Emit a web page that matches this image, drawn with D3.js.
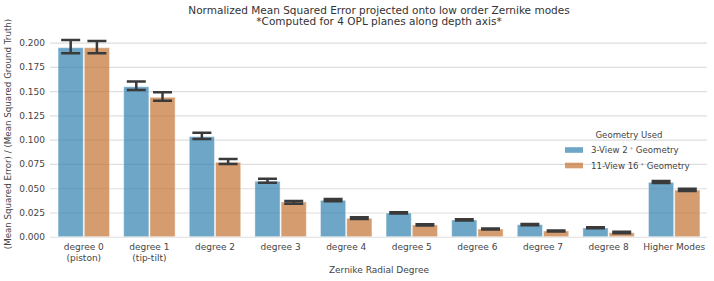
<!DOCTYPE html>
<html>
<head>
<meta charset="utf-8">
<script src="https://cdn.jsdelivr.net/npm/d3@7"></script>
<style>
  body { margin: 0; background: #fff; }
  svg text { font-family: "DejaVu Sans", sans-serif; }
</style>
</head>
<body>
<div class="canvas"></div>
<script>
// chart values
var categories = ["degree 0\n(piston)", "degree 1\n(tip-tilt)", "degree 2", "degree 3", "degree 4",
                  "degree 5", "degree 6", "degree 7", "degree 8", "Higher Modes"];
var seriesNames = ["3-View 2", "11-View 16"];

var view3Mean = [0.1948, 0.1546, 0.1031, 0.0571, 0.0375, 0.0244, 0.0172, 0.0124, 0.0090, 0.0560];
var view3Lo   = [0.1890, 0.1512, 0.1008, 0.0557, 0.0365, 0.0238, 0.0166, 0.0119, 0.0086, 0.0553];
var view3Hi   = [0.2028, 0.1600, 0.1072, 0.0598, 0.0388, 0.0252, 0.0180, 0.0131, 0.0097, 0.0575];

var view11Mean = [0.1948, 0.1437, 0.0767, 0.0358, 0.0190, 0.0121, 0.0079, 0.0059, 0.0041, 0.0481];
var view11Lo   = [0.1890, 0.1402, 0.0750, 0.0340, 0.0183, 0.0115, 0.0073, 0.0054, 0.0036, 0.0472];
var view11Hi   = [0.2017, 0.1489, 0.0801, 0.0368, 0.0201, 0.0128, 0.0085, 0.0065, 0.0050, 0.0495];

var yTicks = [0, 0.025, 0.05, 0.075, 0.1, 0.125, 0.15, 0.175, 0.2];

chart_figure();

function chart_figure() {
	var fig_width = 714;
	var fig_height = 281;
	var colors = ["#3180af", "#c37233"];
	var bar_alpha = 0.7;
	var text_color = "#444";

	var svg = d3.select("body div.canvas").append("svg")
		.attr("width", fig_width)
		.attr("height", fig_height);

	var x = d3.scaleBand().domain(categories).range([51, 707]).paddingInner(0.2).paddingOuter(0.1);
	var xSub = d3.scaleBand().domain(seriesNames).range([0, x.bandwidth()]);
	var y = d3.scaleLinear().domain([0, 0.213]).range([236.7, 30]);

	// grid lines + y tick labels
	var yAxis = svg.append("g")
		.attr("transform", "translate(51,0)")
		.call(d3.axisLeft(y).tickValues(yTicks).tickFormat(d3.format(".3f")).tickSize(-656).tickPadding(6));
	yAxis.select(".domain").remove();
	yAxis.selectAll(".tick line").attr("stroke", "#dedede").attr("stroke-width", 1.1).attr("x1", -1);
	yAxis.selectAll(".tick text").attr("fill", text_color).style("font-size", "9px");

	var rows = [];
	categories.forEach(function(c, i) {
		rows.push({cat: c, s: seriesNames[0], v: view3Mean[i], lo: view3Lo[i], hi: view3Hi[i], k: 0});
		rows.push({cat: c, s: seriesNames[1], v: view11Mean[i], lo: view11Lo[i], hi: view11Hi[i], k: 1});
	});

	// bars are see-through, grid shows behind them
	svg.append("g").selectAll("rect")
		.data(rows)
		.enter().append("rect")
		.attr("x", function(d) { return x(d.cat) + xSub(d.s) + 0.5; })
		.attr("y", function(d) { return y(d.v); })
		.attr("width", xSub.bandwidth() - 1)
		.attr("height", function(d) { return y(0) - y(d.v); })
		.attr("fill", function(d) { return colors[d.k]; })
		.attr("fill-opacity", bar_alpha)
		.attr("stroke", "#ffffff")
		.attr("stroke-opacity", 0.45)
		.attr("stroke-width", 1);

	// error bars with caps
	var capHalf = 9.5;
	var err = svg.append("g").attr("stroke", "#3a3a3a").attr("stroke-width", 2.5).attr("fill", "none");
	rows.forEach(function(d) {
		var cx = x(d.cat) + xSub(d.s) + xSub.bandwidth() / 2;
		err.append("path").attr("d",
			"M" + cx + "," + y(d.lo) + "L" + cx + "," + y(d.hi) +
			"M" + (cx - capHalf) + "," + y(d.hi) + "L" + (cx + capHalf) + "," + y(d.hi) +
			"M" + (cx - capHalf) + "," + y(d.lo) + "L" + (cx + capHalf) + "," + y(d.lo));
	});

	// x tick labels (may be two lines)
	var xl = svg.append("g");
	categories.forEach(function(c) {
		var t = xl.append("text")
			.attr("x", x(c) + x.bandwidth() / 2)
			.attr("y", 250)
			.attr("text-anchor", "middle")
			.attr("fill", text_color)
			.style("font-size", "9px");
		c.split("\n").forEach(function(line, j) {
			t.append("tspan").attr("x", x(c) + x.bandwidth() / 2).attr("dy", j == 0 ? 0 : 11).text(line);
		});
	});

	svg.append("text")
		.attr("x", 379).attr("y", 273)
		.attr("text-anchor", "middle")
		.attr("fill", text_color)
		.style("font-size", "9px")
		.text("Zernike Radial Degree");

	svg.append("text")
		.attr("transform", "translate(11,134) rotate(-90)")
		.attr("text-anchor", "middle")
		.attr("fill", text_color)
		.style("font-size", "8.7px")
		.text("(Mean Squared Error) / (Mean Squared Ground Truth)");

	// title
	svg.append("text")
		.attr("x", 379).attr("y", 14)
		.attr("text-anchor", "middle")
		.attr("fill", "#333")
		.style("font-size", "10.5px")
		.text("Normalized Mean Squared Error projected onto low order Zernike modes");
	svg.append("text")
		.attr("x", 379).attr("y", 25)
		.attr("text-anchor", "middle")
		.attr("fill", "#333")
		.style("font-size", "10.5px")
		.text("*Computed for 4 OPL planes along depth axis*");

	// legend
	var lg = svg.append("g");
	lg.append("text")
		.attr("x", 629).attr("y", 138)
		.attr("text-anchor", "middle")
		.attr("fill", text_color)
		.style("font-size", "8.6px")
		.text("Geometry Used");
	seriesNames.forEach(function(s, i) {
		var ly = 150 + i * 15.5;
		lg.append("rect")
			.attr("x", 565).attr("y", ly - 2.8)
			.attr("width", 18).attr("height", 5.6)
			.attr("fill", colors[i])
			.attr("fill-opacity", bar_alpha);
		var t = lg.append("text")
			.attr("x", 591).attr("y", ly + 3)
			.attr("fill", text_color)
			.style("font-size", "8.6px");
		t.append("tspan").text(s);
		t.append("tspan").attr("dx", 2).attr("dy", -3).style("font-size", "5.5px").text("∘");
		t.append("tspan").attr("dy", 3).text(" Geometry");
	});
}
</script>
</body>
</html>
